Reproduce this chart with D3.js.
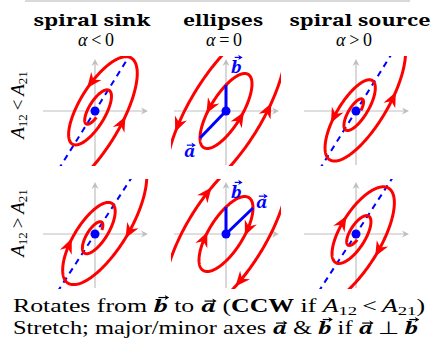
<!DOCTYPE html>
<html>
<head>
<meta charset="utf-8">
<script src="https://cdn.jsdelivr.net/npm/d3@7"></script>
<style>
  body { margin: 0; background: #fff; }
  svg { display: block; }
</style>
</head>
<body>
<svg id="chart" width="435" height="342"></svg>
<script>
const width = 435, height = 342;

// ---- data ----
const columnTitles = ["spiral sink", "ellipses", "spiral source"];
const alphaSigns = ["<", "=", ">"];
const rowSigns = ["<", ">"];
// growth of the radius per radian, one per column (alpha < 0, = 0, > 0)
const growth = [-0.15, 0, 0.15];
// vectors a and b for each row (plot units)
const vecA = [[-26, -27], [27, 26]];
const vecB = [[0, 26], [0, 27]];
// direction of the dashed line (degrees), per row
const dashAngle = [58, 57];
// trajectories per panel: scale k0, start t0, end t1, arrow positions (t)
const trajectories = [
  [
    [{ k0: 1.27, t0: -3.6, t1: 9.6, arrows: [-2.55, 0.1] }],
    [{ k0: 1, t0: 0, t1: 6.3, arrows: [0.66, 3.71] },
     { k0: 2.3, t0: 0, t1: 6.3, arrows: [0.93, 3.92] }],
    [{ k0: 0.93, t0: -8.6, t1: 6, arrows: [0.9, 4.1] }]
  ],
  [
    [{ k0: 2.4, t0: 0.5, t1: 14.5, arrows: [2.3, 5.2] }],
    [{ k0: 1, t0: 0, t1: 6.3, arrows: [2.2, 5.35] },
     { k0: 2.3, t0: 0, t1: 6.3, arrows: [2.91, 5.97] }],
    [{ k0: 1.11, t0: -9.6, t1: 4, arrows: [-0.5, 2.6] }]
  ]
];

// ---- layout ----
const colX = [95, 226, 356];
const rowY = [111, 234];
const titleX = [92, 223, 360];
const titleW = [117, 80, 141];
const alphaX = [96, 224, 354];
const rowLabelY = [105, 223];
const half = 55;

const red = "#ff0000", blue = "#0000ff", gray = "#bfbfbf";
const serif = "Liberation Serif";
const svg = d3.select("#chart");

svg.append("line")
  .attr("x1", 25).attr("x2", 410).attr("y1", 1).attr("y2", 1)
  .attr("stroke", "#cccccc").attr("stroke-width", 1.5);

svg.selectAll("text.title")
  .data(columnTitles)
  .join("text")
  .attr("class", "title")
  .attr("x", (d, i) => titleX[i] - titleW[i] / 2)
  .attr("y", 26)
  .style("font-family", "Noto Serif")
  .attr("font-weight", "bold")
  .attr("font-size", 17)
  .attr("textLength", (d, i) => titleW[i])
  .attr("lengthAdjust", "spacingAndGlyphs")
  .text(d => d);

alphaSigns.forEach((s, i) => {
  const t = svg.append("text")
    .attr("x", alphaX[i]).attr("y", 46)
    .attr("text-anchor", "middle")
    .style("font-family", serif)
    .attr("font-size", 18);
  t.append("tspan").attr("font-style", "italic").text("α");
  t.append("tspan").text("\u2009" + s + "\u20090");
});

rowSigns.forEach((s, i) => {
  const t = svg.append("text")
    .attr("transform", `translate(24,${rowLabelY[i]}) rotate(-90)`)
    .attr("text-anchor", "middle")
    .style("font-family", serif)
    .attr("font-size", 19);
  t.append("tspan").attr("font-style", "italic").text("A");
  t.append("tspan").attr("font-size", 13).attr("dy", 3).text("12");
  t.append("tspan").attr("dy", -3).text("\u2009" + s + "\u2009");
  t.append("tspan").attr("font-style", "italic").text("A");
  t.append("tspan").attr("font-size", 13).attr("dy", 3).text("21");
});

function stealth(g, x, y, ang, len, wid, color) {
  g.append("path")
    .attr("d", `M0,0L${-len},${-wid}L${-len * 0.68},0L${-len},${wid}Z`)
    .attr("transform", `translate(${x},${y}) rotate(${ang * 180 / Math.PI})`)
    .attr("fill", color);
}

function point(tr, row, col, t) {
  const a = vecA[row], b = vecB[row];
  const k = tr.k0 * Math.exp(growth[col] * t);
  return [k * (Math.cos(t) * b[0] + Math.sin(t) * a[0]),
          k * (Math.cos(t) * b[1] + Math.sin(t) * a[1])];
}

const defs = svg.append("defs");

rowY.forEach((cy, r) => {
  colX.forEach((cx, c) => {
    const x = d3.scaleLinear().domain([-half, half]).range([cx - half, cx + half]);
    const y = d3.scaleLinear().domain([-half, half]).range([cy + half, cy - half]);
    const id = `clip-${r}-${c}`;
    defs.append("clipPath").attr("id", id)
      .append("rect")
      .attr("x", x(-half)).attr("y", y(half))
      .attr("width", x(half) - x(-half)).attr("height", y(-half) - y(half));

    const g = svg.append("g");

    // axes
    g.append("line").attr("x1", x(-52)).attr("x2", x(51)).attr("y1", y(0)).attr("y2", y(0))
      .attr("stroke", gray).attr("stroke-width", 1.2);
    stealth(g, x(53), y(0), 0, 7, 3.5, gray);
    g.append("line").attr("x1", x(0)).attr("x2", x(0)).attr("y1", y(-54)).attr("y2", y(50))
      .attr("stroke", gray).attr("stroke-width", 1.2);
    stealth(g, x(0), y(52), -Math.PI / 2, 7, 3.5, gray);

    const clipped = g.append("g").attr("clip-path", `url(#${id})`);

    if (growth[c] !== 0) {
      const ang = dashAngle[r] * Math.PI / 180, L = 80;
      clipped.append("line")
        .attr("x1", x(-L * Math.cos(ang))).attr("y1", y(-L * Math.sin(ang)))
        .attr("x2", x(L * Math.cos(ang))).attr("y2", y(L * Math.sin(ang)))
        .attr("stroke", blue).attr("stroke-width", 2)
        .attr("stroke-dasharray", "6,5");
    }

    const line = d3.line().x(d => x(d[0])).y(d => y(d[1])).curve(d3.curveLinear);
    trajectories[r][c].forEach(tr => {
      const ts = d3.range(tr.t0, tr.t1, 0.02).concat([tr.t1]);
      clipped.append("path")
        .attr("d", line(ts.map(t => point(tr, r, c, t))))
        .attr("fill", "none").attr("stroke", red).attr("stroke-width", 3)
        .attr("stroke-linejoin", "round");
    });
    trajectories[r][c].forEach(tr => {
      tr.arrows.forEach(t => {
        const p = point(tr, r, c, t), q = point(tr, r, c, t + 0.01);
        const px = x(p[0]), py = y(p[1]);
        const ang = Math.atan2(y(q[1]) - py, x(q[0]) - px);
        const len = 15;
        stealth(clipped, px + Math.cos(ang) * len / 2, py + Math.sin(ang) * len / 2, ang, len, 6.5, red);
      });
    });

    if (growth[c] === 0) {
      [vecA[r], vecB[r]].forEach(v => {
        g.append("line").attr("x1", x(0)).attr("y1", y(0)).attr("x2", x(v[0])).attr("y2", y(v[1]))
          .attr("stroke", blue).attr("stroke-width", 3);
      });
    }

    g.append("circle").attr("cx", x(0)).attr("cy", y(0)).attr("r", 4.5).attr("fill", blue);
  });
});

// vector labels in the ellipse panels
const vecLabels = [
  { name: "b", x: 231, y: 73 }, { name: "a", x: 184, y: 157 },
  { name: "b", x: 231, y: 198 }, { name: "a", x: 256, y: 208 }
];
vecLabels.forEach(d => {
  const t = svg.append("text")
    .attr("x", d.x).attr("y", d.y)
    .style("font-family", "Noto Serif").attr("font-size", 17)
    .attr("font-weight", "bold").attr("font-style", "italic")
    .attr("fill", blue);
  t.append("tspan").attr("class", "vec").attr("data-l", d.name).text(d.name);
});

// caption
function caption(yPos, parts, len) {
  const t = svg.append("text")
    .attr("x", 13).attr("y", yPos)
    .style("font-family", serif).attr("font-size", 18)
    .attr("textLength", len).attr("lengthAdjust", "spacingAndGlyphs");
  parts.forEach(p => {
    const s = t.append("tspan").text(p.s);
    if (p.vec) s.attr("class", "vec").attr("data-l", p.s).attr("font-weight", "bold").attr("font-style", "italic").style("font-family", "Noto Serif").attr("font-size", 16);
    if (p.b) s.attr("font-weight", "bold");
    if (p.i) s.attr("font-style", "italic");
    if (p.sub) s.attr("font-size", 13).attr("dy", 3);
    if (p.up) s.attr("dy", -3);
  });
}
caption(312, [
  { s: "Rotates from " }, { s: "b", vec: true }, { s: " to " }, { s: "a", vec: true },
  { s: " (" }, { s: "CCW", b: true }, { s: " if " }, { s: "A", i: true }, { s: "12", sub: true },
  { s: "\u2009<\u2009", up: true }, { s: "A", i: true }, { s: "21", sub: true }, { s: ")", up: true }
], 412);
caption(334, [
  { s: "Stretch; major/minor axes " }, { s: "a", vec: true }, { s: " & " }, { s: "b", vec: true },
  { s: " if " }, { s: "a", vec: true }, { s: "\u2009⊥\u2009" }, { s: "b", vec: true }
], 405);

// arrows over vector letters
svg.selectAll("tspan.vec").each(function () {
  const el = this;
  const ext = el.getExtentOfChar(0);
  const text = el.parentNode;
  const fs = parseFloat(getComputedStyle(el).fontSize);
  const base = ext.y + ext.height * 0.77;
  const tall = el.getAttribute("data-l") === "b";
  const ay = base - fs * (tall ? 0.9 : 0.68);
  const x0 = ext.x + ext.width * (tall ? 0.35 : 0.25), x1 = ext.x + ext.width * (tall ? 1.1 : 1.05);
  const col = getComputedStyle(text).fill;
  svg.append("line").attr("x1", x0).attr("x2", x1 - 2).attr("y1", ay).attr("y2", ay)
    .attr("stroke", col).attr("stroke-width", 1.2);
  svg.append("path").attr("d", `M${x1},${ay}L${x1 - 4.5},${ay - 2.6}L${x1 - 3.2},${ay}L${x1 - 4.5},${ay + 2.6}Z`)
    .attr("fill", col);
});
</script>
</body>
</html>
